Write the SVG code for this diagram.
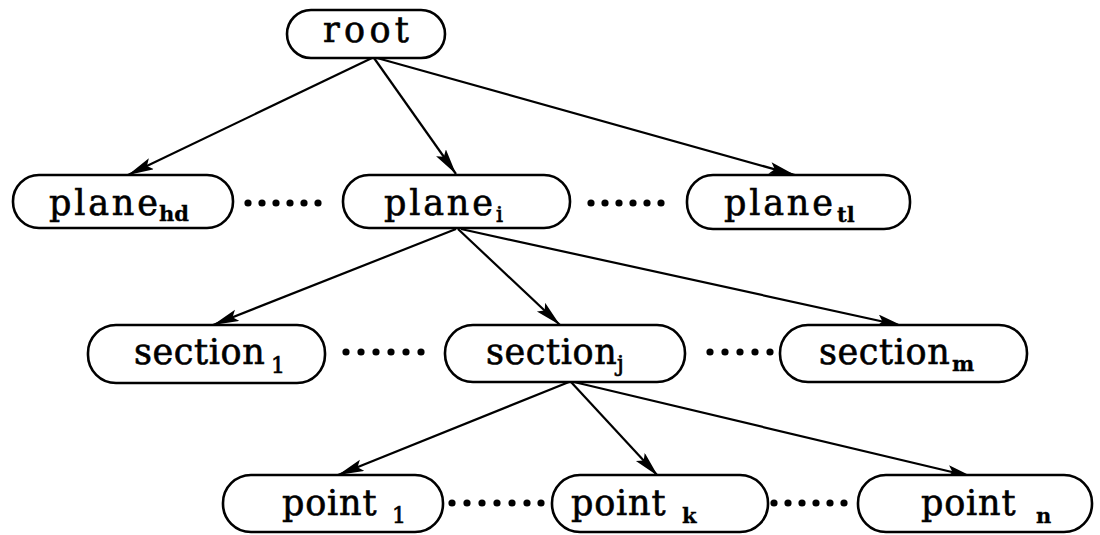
<svg xmlns="http://www.w3.org/2000/svg" width="1100" height="535" viewBox="0 0 1100 535">
  <defs>
    <style>
      .box { fill: #fff; stroke: #000; stroke-width: 2.6; }
      .lbl { font-family: "DejaVu Serif", "Liberation Serif", serif; font-size: 35px; fill: #000; stroke: #000; stroke-width: 0.6; }
      .sub { font-size: 22px; stroke-width: 0.7; }
      .bsub { font-size: 21px; font-weight: bold; stroke-width: 0.3; }
      .edge { stroke: #000; stroke-width: 2.2; fill: none; marker-end: url(#arrow); }
      .dot { fill: #000; }
    </style>
    <marker id="arrow" markerUnits="userSpaceOnUse" markerWidth="28" markerHeight="14" refX="26" refY="6" orient="auto">
      <path d="M0,0 L26,6 L0,12 L5,6 z" fill="#000"/>
    </marker>
  </defs>

  <rect width="1100" height="535" fill="#fff"/>

  <!-- tree edges -->
  <g id="connectors">
    <line class="edge" x1="372" y1="58" x2="128" y2="175"/>
    <line class="edge" x1="374" y1="58" x2="456" y2="174"/>
    <line class="edge" x1="377" y1="58" x2="795" y2="175"/>
    <line class="edge" x1="456" y1="229" x2="213" y2="325"/>
    <line class="edge" x1="458" y1="229" x2="560" y2="325"/>
    <line class="edge" x1="461" y1="229" x2="903" y2="326"/>
    <line class="edge" x1="569" y1="382" x2="338" y2="475"/>
    <line class="edge" x1="571" y1="382" x2="658" y2="476"/>
    <line class="edge" x1="574" y1="382" x2="973" y2="477"/>
  </g>

  <!-- ellipsis dots between siblings -->
  <g id="dots">
    <g id="dots-plane-1">
      <circle class="dot" cx="248" cy="203" r="3.6"/><circle class="dot" cx="262" cy="203" r="3.6"/>
      <circle class="dot" cx="276" cy="203" r="3.6"/><circle class="dot" cx="290" cy="203" r="3.6"/>
      <circle class="dot" cx="304" cy="203" r="3.6"/><circle class="dot" cx="318" cy="203" r="3.6"/>
    </g>
    <g id="dots-plane-2">
      <circle class="dot" cx="591" cy="203" r="3.6"/><circle class="dot" cx="605" cy="203" r="3.6"/>
      <circle class="dot" cx="619" cy="203" r="3.6"/><circle class="dot" cx="633" cy="203" r="3.6"/>
      <circle class="dot" cx="647" cy="203" r="3.6"/><circle class="dot" cx="661" cy="203" r="3.6"/>
    </g>
    <g id="dots-section-1">
      <circle class="dot" cx="346" cy="352" r="3.6"/><circle class="dot" cx="361" cy="352" r="3.6"/>
      <circle class="dot" cx="376" cy="352" r="3.6"/><circle class="dot" cx="391" cy="352" r="3.6"/>
      <circle class="dot" cx="406" cy="352" r="3.6"/><circle class="dot" cx="421" cy="352" r="3.6"/>
    </g>
    <g id="dots-section-2">
      <circle class="dot" cx="710" cy="352" r="3.6"/><circle class="dot" cx="725" cy="352" r="3.6"/>
      <circle class="dot" cx="740" cy="352" r="3.6"/><circle class="dot" cx="755" cy="352" r="3.6"/>
      <circle class="dot" cx="770" cy="352" r="3.6"/>
    </g>
    <g id="dots-point-1">
      <circle class="dot" cx="452" cy="503" r="3.6"/><circle class="dot" cx="467" cy="503" r="3.6"/>
      <circle class="dot" cx="482" cy="503" r="3.6"/><circle class="dot" cx="497" cy="503" r="3.6"/>
      <circle class="dot" cx="512" cy="503" r="3.6"/><circle class="dot" cx="527" cy="503" r="3.6"/>
      <circle class="dot" cx="541" cy="503" r="3.6"/>
    </g>
    <g id="dots-point-2">
      <circle class="dot" cx="774" cy="503" r="3.6"/><circle class="dot" cx="788" cy="503" r="3.6"/>
      <circle class="dot" cx="802" cy="503" r="3.6"/><circle class="dot" cx="816" cy="503" r="3.6"/>
      <circle class="dot" cx="830" cy="503" r="3.6"/><circle class="dot" cx="844" cy="503" r="3.6"/>
    </g>
  </g>

  <g id="root">
    <rect class="box" x="287" y="10" width="158" height="48" rx="24"/>
    <text class="lbl" x="323" y="42" letter-spacing="4.3">root</text>
  </g>

  <g id="plane-hd">
    <rect class="box" x="13" y="175" width="220" height="53" rx="26"/>
    <text class="lbl" x="49" y="215"><tspan letter-spacing="2.8">plane</tspan><tspan class="bsub" x="159" dy="6">hd</tspan></text>
  </g>
  <g id="plane-i">
    <rect class="box" x="343" y="175" width="227" height="53" rx="26"/>
    <text class="lbl" x="384" y="215"><tspan letter-spacing="2.8">plane</tspan><tspan class="sub" x="496" dy="7">i</tspan></text>
  </g>
  <g id="plane-tl">
    <rect class="box" x="687" y="175" width="223" height="54" rx="26"/>
    <text class="lbl" x="724" y="215"><tspan letter-spacing="2.8">plane</tspan><tspan class="bsub" x="837" dy="7">tl</tspan></text>
  </g>

  <g id="section-1">
    <rect class="box" x="88" y="325" width="237" height="58" rx="28"/>
    <text class="lbl" x="134" y="364"><tspan letter-spacing="0.6">section</tspan><tspan class="sub" x="271" dy="9">1</tspan></text>
  </g>
  <g id="section-j">
    <rect class="box" x="445" y="325" width="240" height="57" rx="28"/>
    <text class="lbl" x="486" y="364"><tspan letter-spacing="0.6">section</tspan><tspan class="sub" x="617" dy="7">j</tspan></text>
  </g>
  <g id="section-m">
    <rect class="box" x="780" y="325" width="247" height="57" rx="28"/>
    <text class="lbl" x="819" y="364"><tspan letter-spacing="0.6">section</tspan><tspan class="bsub" x="952" dy="7">m</tspan></text>
  </g>

  <g id="point-1">
    <rect class="box" x="223" y="475" width="220" height="57" rx="28"/>
    <text class="lbl" x="282" y="515"><tspan letter-spacing="0.8">point</tspan><tspan class="sub" x="392" dy="8">1</tspan></text>
  </g>
  <g id="point-k">
    <rect class="box" x="552" y="475" width="216" height="57" rx="28"/>
    <text class="lbl" x="571" y="515"><tspan letter-spacing="0.8">point</tspan><tspan class="bsub" x="682" dy="8">k</tspan></text>
  </g>
  <g id="point-n">
    <rect class="box" x="858" y="475" width="234" height="57" rx="28"/>
    <text class="lbl" x="921" y="515"><tspan letter-spacing="0.8">point</tspan><tspan class="bsub" x="1036" dy="8">n</tspan></text>
  </g>
</svg>
